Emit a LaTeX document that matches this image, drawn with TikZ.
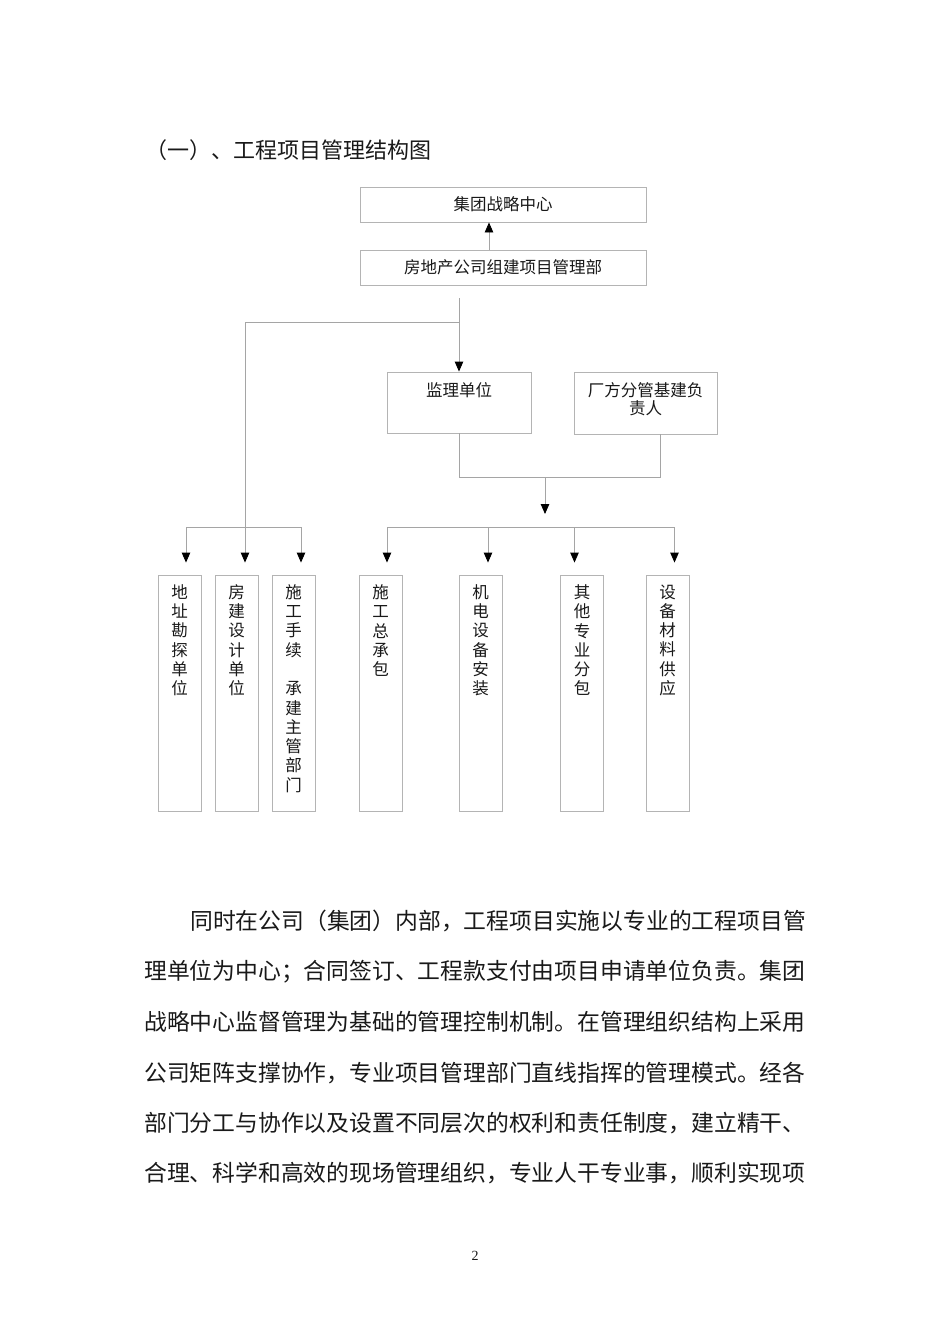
\documentclass[tikz,border=0pt]{standalone}
\usepackage{fontspec}
\setmainfont{Noto Sans CJK SC}
\newfontfamily\numfont{Liberation Serif}
\usetikzlibrary{arrows.meta,calc}
\definecolor{linegray}{RGB}{165,165,165}
\definecolor{boxgray}{RGB}{180,180,180}
\definecolor{txt}{RGB}{25,25,25}
\begin{document}
\begin{tikzpicture}[x=1pt,y=-1pt,
  ln/.style={draw=linegray,line width=0.9pt},
  arr/.style={ln,-{Triangle[length=10pt,width=8.5pt,color=black]}},
  hbox/.style={draw=boxgray,line width=0.9pt,rectangle,inner sep=0pt,
    font=\fontsize{16.5}{19}\selectfont,text=txt},
  vbox/.style={draw=boxgray,line width=0.9pt,rectangle,inner sep=0pt,
    minimum width=43pt,minimum height=236pt},
  vtext/.style={inner sep=0pt,align=center,text=txt,
    font=\fontsize{16.5}{19.3}\selectfont},
  htext/.style={inner sep=0pt,align=center,text=txt,
    font=\fontsize{16.5}{18}\selectfont},
  body/.style={inner sep=0pt,anchor=west,text=txt,
    font=\fontsize{22.8}{28}\selectfont},
]
\useasboundingbox[fill=white] (0,0) rectangle (950,1344);

% title
\node[inner sep=0pt,anchor=west,text=txt,font=\fontsize{22}{26}\selectfont] (title) at (145,150) {（一）、工程项目管理结构图};

% top boxes
\node[hbox,minimum width=286pt,minimum height=35pt] (A) at (503,204.5) {集团战略中心};
\node[hbox,minimum width=286pt,minimum height=35pt] (B) at (503,267.5) {房地产公司组建项目管理部};
\draw[arr] ([xshift=-14pt]B.north) -- ([xshift=-14pt]A.south);

% middle boxes
\node[hbox,minimum width=144pt,minimum height=61pt] (J) at (459,402.5) {};
\node[htext] (Jt) at (459,390) {监理单位};
\node[hbox,minimum width=143pt,minimum height=62pt] (F) at (645.5,403) {};
\node[htext] (Ft) at (645.5,399) {厂方分管基建负\\责人};

% trunk from B
\coordinate (tt) at (459,298);
\coordinate (split) at (459,322);
\draw[arr] (tt) -- (J.north);

% bottom boxes
\node[vbox] (b1) at (179.5,693) {};
\node[vbox] (b2) at (236.5,693) {};
\node[vbox] (b3) at (293.5,693) {};
\node[vbox] (b4) at (380.5,693) {};
\node[vbox] (b5) at (480.5,693) {};
\node[vbox] (b6) at (582,693) {};
\node[vbox] (b7) at (667.5,693) {};

\node[vtext] (t1) at (179.5,640.25) {地\\址\\勘\\探\\单\\位};
\node[vtext] (t2) at (236.5,640.25) {房\\建\\设\\计\\单\\位};
\node[vtext] (t3) at (293.5,688.5) {施\\工\\手\\续\\\mbox{}\\承\\建\\主\\管\\部\\门};
\node[vtext] (t4) at (380.5,630.6) {施\\工\\总\\承\\包};
\node[vtext] (t5) at (480.5,640.25) {机\\电\\设\\备\\安\\装};
\node[vtext] (t6) at (582,640.25) {其\\他\\专\\业\\分\\包};
\node[vtext] (t7) at (667.5,640.25) {设\\备\\材\\料\\供\\应};

% left branch
\coordinate (hl) at (186,527);
\coordinate (hlr) at (301,527);
\draw[ln] (split) -| ([xshift=8.5pt,yshift=40pt]b2.north);
\draw[arr] ([xshift=8.5pt,yshift=40pt]b2.north) -- ([xshift=8.5pt,yshift=12pt]b2.north);
\draw[ln] (hl) -- (hlr);
\draw[arr] (hl) -- ([xshift=6.5pt,yshift=12pt]b1.north);
\draw[arr] (hlr) -- ([xshift=7.5pt,yshift=12pt]b3.north);

% merge of J and F
\coordinate (mj) at (459,477);
\coordinate (mf) at (660,477);
\coordinate (mm) at (545,477);
\draw[ln] (J.south) -- (mj) -- (mf) -- (F.south -| mf);
\coordinate (mtip) at (545,514);
\draw[arr] (mm) -- (mtip);

% right branch
\coordinate (hr) at (387,527);
\coordinate (hrr) at (674.5,527);
\draw[ln] (hr) -- (hrr);
\draw[arr] (hr) -- ([xshift=6.5pt,yshift=12pt]b4.north);
\draw[arr] (hr -| {488,0}) -- ([xshift=7.5pt,yshift=12pt]b5.north);
\draw[arr] (hr -| {574.5,0}) -- ([xshift=-7.5pt,yshift=12pt]b6.north);
\draw[arr] (hrr) -- ([xshift=7pt,yshift=12pt]b7.north);

% body text
\node[body] (l1) at (190,921) {同时在公司（集团）内部，工程项目实施以专业的工程项目管};
\node[body] (l2) at (144,972) {理单位为中心；合同签订、工程款支付由项目申请单位负责。集团};
\node[body] (l3) at (144,1022) {战略中心监督管理为基础的管理控制机制。在管理组织结构上采用};
\node[body] (l4) at (144,1073) {公司矩阵支撑协作，专业项目管理部门直线指挥的管理模式。经各};
\node[body] (l5) at (144,1123) {部门分工与协作以及设置不同层次的权利和责任制度，建立精干、};
\node[body] (l6) at (144,1173) {合理、科学和高效的现场管理组织，专业人干专业事，顺利实现项};

% page number
\node[inner sep=0pt,text=txt,font=\numfont\fontsize{14}{16}\selectfont] (pg) at (475,1256) {2};
\end{tikzpicture}
\end{document}
